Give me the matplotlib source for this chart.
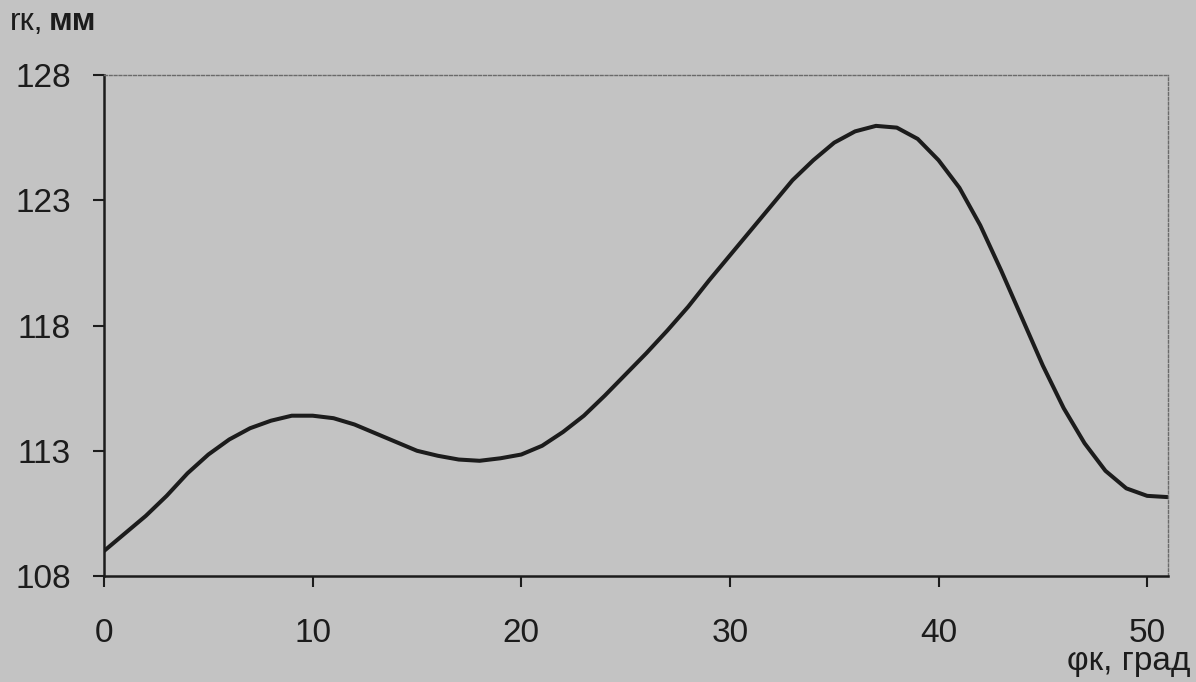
import matplotlib
matplotlib.use("Agg")
import matplotlib.pyplot as plt

# угол поворота, град
phi = [0, 1, 2, 3, 4, 5, 6, 7, 8, 9, 10, 11, 12, 13, 14, 15, 16, 17, 18,
       19, 20, 21, 22, 23, 24, 25, 26, 27, 28, 29, 30, 31, 32, 33, 34, 35,
       36, 37, 38, 39, 40, 41, 42, 43, 44, 45, 46, 47, 48, 49, 50, 51]
# кинематический радиус, мм
r = [109.0, 109.7, 110.4, 111.2, 112.1, 112.85, 113.45, 113.9, 114.2, 114.4,
     114.4, 114.3, 114.05, 113.7, 113.35, 113.0, 112.8, 112.65, 112.6, 112.7,
     112.85, 113.2, 113.75, 114.4, 115.2, 116.05, 116.9, 117.8, 118.75, 119.8,
     120.8, 121.8, 122.8, 123.8, 124.6, 125.3, 125.75, 125.97, 125.9, 125.45,
     124.6, 123.5, 122.0, 120.2, 118.3, 116.4, 114.7, 113.3, 112.2, 111.5,
     111.2, 111.15]

yticks = [108, 113, 118, 123, 128]
xticks = [0, 10, 20, 30, 40, 50]

bg = "#c3c3c3"
ink = "#1c1c1c"
plt.rcParams["font.family"] = ["Liberation Sans", "DejaVu Sans"]

fig = plt.figure(figsize=(11.96, 6.82), dpi=100, facecolor=bg)
ax = fig.add_axes([0.087, 0.1554, 0.8896, 0.7346], facecolor=bg)

ax.plot(phi, r, color=ink, lw=2.9, solid_capstyle="round",
        solid_joinstyle="round")

ax.set_xlim(0, 51)
ax.set_ylim(108, 128)
ax.set_xticks(xticks)
ax.set_yticks(yticks)
ax.tick_params(axis="both", direction="out", colors=ink, labelsize=24,
               length=8, width=1.5)
ax.tick_params(axis="y", pad=16)
ax.tick_params(axis="x", pad=22)

for side in ("left", "bottom"):
    ax.spines[side].set_color(ink)
    ax.spines[side].set_linewidth(1.8)
for side in ("top", "right"):
    ax.spines[side].set_color("#6a6a6a")
    ax.spines[side].set_linewidth(1.0)
    ax.spines[side].set_linestyle((0, (2, 1.5)))

# подписи осей
fig.text(0.008, 0.968, "rк,", fontsize=23, color=ink, ha="left", va="center")
fig.text(0.041, 0.968, "мм", fontsize=23, color=ink, ha="left", va="center",
         fontweight="bold")
fig.text(0.995, 0.03, "φк, град", fontsize=24, color=ink, ha="right", va="center")

fig.savefig("out.png", dpi=100, facecolor=bg)
